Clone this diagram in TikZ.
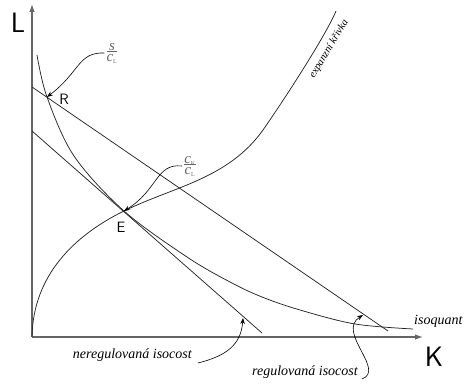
\documentclass[tikz,border=0pt]{standalone}
\usepackage{fontspec}
\setmainfont{Liberation Serif}
\usetikzlibrary{arrows.meta}
\newcommand{\tinysub}[1]{\textsubscript{\fontsize{6}{6}\selectfont\upshape #1}}
\begin{document}
\begin{tikzpicture}[x=1pt,y=-1pt,
  curve/.style={line width=0.75pt, black!85},
  axis/.style={line width=1.2pt, black!60, -{Latex[length=8pt,width=5.5pt]}},
  lbl/.style={font=\fontsize{14}{14}\selectfont\itshape, inner sep=0pt},
  axlbl/.style={font=\fontsize{28}{28}\selectfont\sffamily, inner sep=0pt},
  ptlbl/.style={font=\fontsize{15}{15}\selectfont\sffamily, inner sep=0pt},
  frac/.style={font=\fontsize{15}{15}\selectfont\itshape, text=black!60, inner sep=0pt},
  ptr/.style={line width=0.6pt, -{Stealth[length=6pt,width=4.5pt]}}]
\useasboundingbox (0,0) rectangle (464,385);
% axes
\coordinate (O) at (32,337);
\coordinate (Ytop) at (32,4);
\coordinate (Xend) at (423,337);
\draw[axis] (O) -- (Ytop);
\draw[axis] (O) -- (Xend);
\node[axlbl] (L) at (18,23) {L};
\node[axlbl] (K) at (434,357) {K};
% points
\coordinate (R) at (47,97);
\coordinate (E) at (124,211);
% isocosts
\coordinate (r1) at (32,87);
\coordinate (r2) at (388,331);
\coordinate (u1) at (32,131);
\coordinate (u2) at (262,333);
\draw[curve] (r1) -- (r2);
\draw[curve] (u1) -- (u2);
% isoquant
\draw[curve] plot[smooth, tension=0.55] coordinates {(37,55) (R) (74,156) (E) (187,257) (230,282) (262,297) (300,310) (355,324) (413,329)};
% expansion curve
\coordinate (X1) at (263,130);
\coordinate (Xtop) at (336,11);
\draw[curve] (O) .. controls (33,275) and (75,235) .. (E)
  .. controls (174,186.5) and (228,179) .. (X1)
  .. controls (286,97) and (326,35) .. (Xtop);
% labels
\node[ptlbl] (Rl) at (64,99) {R};
\node[ptlbl] (El) at (121,227) {E};
\node[lbl, anchor=base west] (iq) at (414,325) {isoquant};
\node[lbl, anchor=base east] (ner) at (192,359) {neregulovaná isocost};
\node[lbl, anchor=base east] (reg) at (358,375) {regulovaná isocost};
\node[font=\fontsize{10.5}{10.5}\selectfont\itshape, inner sep=0pt, rotate=59] (exp) at (329,49) {expanzní křivka};
\node[frac] (f1) at (112,53) {\begin{tabular}{@{}c@{}}s\\[-4pt]\hline\rule{0pt}{9pt}c\tinysub{L}\end{tabular}};
\node[frac] (f2) at (190,166) {\begin{tabular}{@{}c@{}}c\tinysub{K}\\[-4pt]\hline\rule{0pt}{9pt}c\tinysub{L}\end{tabular}};
% pointers
\coordinate (ua) at (243,318);
\coordinate (ra) at (363,315);
\draw[ptr] ([xshift=-2pt]f1.west) .. controls (78,52) and (80,72) .. (R);
\draw[ptr] ([xshift=-2pt]f2.west) .. controls (156,163) and (158,190) .. (E);
\draw[ptr] ([xshift=6pt,yshift=-4pt]ner.base east) .. controls (226,356) and (241,345) .. (ua);
\draw[ptr] ([xshift=4pt,yshift=-4pt]reg.base east) .. controls (386,370) and (336,332) .. (ra);
\end{tikzpicture}
\end{document}
